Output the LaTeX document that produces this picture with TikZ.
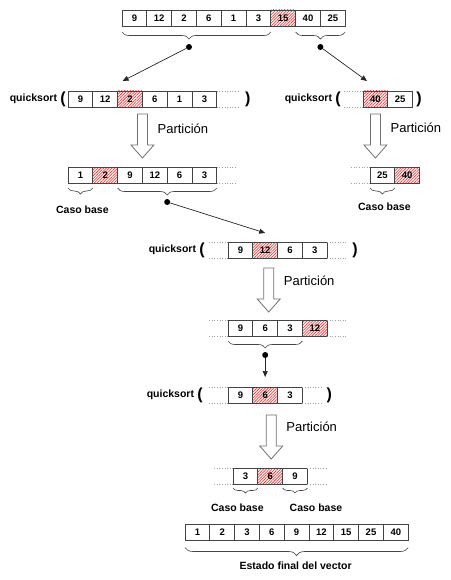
\documentclass[tikz,border=0pt]{standalone}
\usepackage{fontspec}
\setmainfont{Liberation Sans}
\definecolor{LineaGris}{HTML}{444444}
\definecolor{PuntoGris}{HTML}{A0A0A0}
\definecolor{RojoPivote}{HTML}{E03030}
\definecolor{FlechaGris}{HTML}{707070}
\usetikzlibrary{arrows.meta, positioning, calc, patterns.meta, decorations.pathreplacing}
\tikzset{
  celda/.style={draw=LineaGris, line width=0.7pt, minimum width=24.8pt, minimum height=16pt, inner sep=0pt, outer sep=0pt, font=\fontsize{9.5}{11}\selectfont\bfseries},
  pivote/.style={celda, preaction={fill=red!6}, pattern={Lines[angle=45, distance=2pt, line width=0.55pt]}, pattern color=RojoPivote},
  qs/.style={font=\fontsize{10.5}{12}\selectfont\bfseries, inner sep=0pt},
  parentesis/.style={font=\fontsize{16}{18}\selectfont\bfseries, inner sep=0pt},
  etiqueta/.style={font=\fontsize{10.5}{12}\selectfont\bfseries, inner sep=0pt},
  particion/.style={font=\fontsize{13}{15}\selectfont, inner sep=0pt, anchor=west},
  llave/.style={decorate, decoration={brace, mirror, amplitude=7pt}, draw=LineaGris, line width=0.6pt},
  punto/.style={circle, fill=black, inner sep=0pt, minimum size=6pt},
  flecha/.style={-{Triangle[length=6pt, width=5pt]}, draw=black!85, line width=0.7pt},
  bloque/.style={draw=FlechaGris, line width=0.8pt, fill=white},
  punteado/.style={draw=PuntoGris, dotted, line width=0.6pt}
}
\begin{document}
\begin{tikzpicture}[x=1pt, y=-1pt]
\useasboundingbox (0,0) rectangle (450,580);

% vector inicial
\node[celda, anchor=west] (a1) at (122,18) {9};
\node[celda, right=0pt of a1] (a2) {12};
\node[celda, right=0pt of a2] (a3) {2};
\node[celda, right=0pt of a3] (a4) {6};
\node[celda, right=0pt of a4] (a5) {1};
\node[celda, right=0pt of a5] (a6) {3};
\node[pivote, right=0pt of a6] (a7) {15};
\node[celda, right=0pt of a7] (a8) {40};
\node[celda, right=0pt of a8] (a9) {25};
\draw[llave, decoration={aspect=0.45}] ([yshift=-6pt]a1.south west) -- ([yshift=-6pt]a6.south east);
\draw[llave] ([yshift=-6pt]a8.south west) -- ([yshift=-6pt]a9.south east);
\node[punto] (pa) at ($(a1.south west)!0.45!(a6.south east)+(0,21)$) {};
\node[punto] (pc) at ($(a8.south west)!0.5!(a9.south east)+(0,21)$) {};

% quicksort izquierdo
\node[celda, anchor=west] (b1) at (68,99) {9};
\node[celda, right=0pt of b1] (b2) {12};
\node[pivote, right=0pt of b2] (b3) {2};
\node[celda, right=0pt of b3] (b4) {6};
\node[celda, right=0pt of b4] (b5) {1};
\node[celda, right=0pt of b5] (b6) {3};
\node[parentesis, left=2pt of b1] (pb) {(};
\node[qs, left=3pt of pb] (qsb) {quicksort};
\node[parentesis, right=28pt of b6] (cb) {)};
\draw[punteado] (b6.north east) -- ++(23,0);
\draw[punteado] (b6.south east) -- ++(23,0);
\coordinate (qb) at ([shift={(5pt,10pt)}]b3.north west);
\draw[flecha] (pa) -- (qb);

% quicksort derecho
\node[pivote, anchor=west] (c1) at (363,99) {40};
\node[celda, right=0pt of c1] (c2) {25};
\node[parentesis, left=22pt of c1] (pc1) {(};
\node[qs, left=3pt of pc1] (qsc) {quicksort};
\node[parentesis, right=3.5pt of c2] (cc) {)};
\draw[punteado] (c1.north west) -- ++(-19,0);
\draw[punteado] (c1.south west) -- ++(-19,0);
\coordinate (qc) at ([shift={(4pt,10pt)}]c1.north west);
\draw[flecha] (pc) -- (qc);

% particiones
\coordinate (tb) at ([yshift=-7pt]b3.south east);
\draw[bloque] ([xshift=-5pt]tb) -- ++(10,0) -- ++(0,31) -- ++(6.5,0) -- ++(-11.5,13) -- ++(-11.5,-13) -- ++(6.5,0) -- cycle;
\node[particion] (lb) at ([shift={(15pt,-15pt)}]tb) {Partición};
\coordinate (tc) at ([yshift=-7pt]c1.south);
\draw[bloque] ([xshift=-5pt]tc) -- ++(10,0) -- ++(0,31) -- ++(6.5,0) -- ++(-11.5,13) -- ++(-11.5,-13) -- ++(6.5,0) -- cycle;
\node[particion] (lc) at ([shift={(15pt,-14pt)}]tc) {Partición};

% resultado izquierdo
\node[celda, anchor=west] (d1) at (68,175) {1};
\node[pivote, right=0pt of d1] (d2) {2};
\node[celda, right=0pt of d2] (d3) {9};
\node[celda, right=0pt of d3] (d4) {12};
\node[celda, right=0pt of d4] (d5) {6};
\node[celda, right=0pt of d5] (d6) {3};
\draw[punteado] (d6.north east) -- ++(20,0);
\draw[punteado] (d6.south east) -- ++(20,0);
\draw[llave, decoration={amplitude=6pt}] ([yshift=-5pt]d1.south west) -- ([yshift=-5pt]d1.south east);
\node[etiqueta] (bd) at ($(d1.south)+(2,27)$) {Caso base};
\draw[llave] ([yshift=-5pt]d3.south west) -- ([yshift=-5pt]d6.south east);
\node[punto] (pd) at ($(d3.south west)!0.5!(d6.south east)+(0,19)$) {};

% resultado derecho
\node[celda, anchor=west] (e1) at (370,175) {25};
\node[pivote, right=0pt of e1] (e2) {40};
\draw[punteado] (e1.north west) -- ++(-20,0);
\draw[punteado] (e1.south west) -- ++(-20,0);
\draw[llave, decoration={amplitude=6pt}] ([yshift=-5pt]e1.south west) -- ([yshift=-5pt]e1.south east);
\node[etiqueta] (be) at ($(e1.south)+(2,24)$) {Caso base};

% quicksort 9 12 6 3
\node[celda, anchor=west] (f1) at (228,250) {9};
\node[pivote, right=0pt of f1] (f2) {12};
\node[celda, right=0pt of f2] (f3) {6};
\node[celda, right=0pt of f3] (f4) {3};
\node[parentesis, left=23pt of f1] (pf) {(};
\node[qs, left=3pt of pf] (qsf) {quicksort};
\node[parentesis, right=25pt of f4] (cf) {)};
\draw[punteado] (f1.north west) -- ++(-20,0);
\draw[punteado] (f1.south west) -- ++(-20,0);
\draw[punteado] (f4.north east) -- ++(20,0);
\draw[punteado] (f4.south east) -- ++(20,0);
\coordinate (qf) at ([yshift=9pt]f2.north);
\draw[flecha] (pd) -- (qf);
\coordinate (tf) at ([shift={(3.5pt,-10pt)}]f2.south);
\draw[bloque] ([xshift=-5pt]tf) -- ++(10,0) -- ++(0,31) -- ++(6.5,0) -- ++(-11.5,13) -- ++(-11.5,-13) -- ++(6.5,0) -- cycle;
\node[particion] (lf) at ([shift={(15pt,-13pt)}]tf) {Partición};

% resultado 9 6 3 12
\node[celda, anchor=west] (g1) at (228,328) {9};
\node[celda, right=0pt of g1] (g2) {6};
\node[celda, right=0pt of g2] (g3) {3};
\node[pivote, right=0pt of g3] (g4) {12};
\draw[punteado] (g1.north west) -- ++(-19,0);
\draw[punteado] (g1.south west) -- ++(-19,0);
\draw[punteado] (g4.north east) -- ++(20,0);
\draw[punteado] (g4.south east) -- ++(20,0);
\draw[llave] ([yshift=-5pt]g1.south west) -- ([yshift=-5pt]g3.south east);
\node[punto] (pg) at ($(g1.south west)!0.5!(g3.south east)+(0,19)$) {};

% quicksort 9 6 3
\node[celda, anchor=west] (h1) at (228,395) {9};
\node[pivote, right=0pt of h1] (h2) {6};
\node[celda, right=0pt of h2] (h3) {3};
\node[parentesis, left=25pt of h1] (ph) {(};
\node[qs, left=3pt of ph] (qsh) {quicksort};
\node[parentesis, right=24pt of h3] (ch) {)};
\draw[punteado] (h1.north west) -- ++(-19,0);
\draw[punteado] (h1.south west) -- ++(-19,0);
\draw[punteado] (h3.north east) -- ++(20,0);
\draw[punteado] (h3.south east) -- ++(20,0);
\coordinate (qh) at ([yshift=10pt]h2.north);
\draw[flecha] (pg) -- (qh);
\coordinate (th) at ([shift={(6pt,-12pt)}]h2.south);
\draw[bloque] ([xshift=-5pt]th) -- ++(10,0) -- ++(0,31) -- ++(6.5,0) -- ++(-11.5,13) -- ++(-11.5,-13) -- ++(6.5,0) -- cycle;
\node[particion] (lh) at ([shift={(15pt,-12pt)}]th) {Partición};

% resultado 3 6 9
\node[celda, anchor=west] (i1) at (233,476) {3};
\node[pivote, right=0pt of i1] (i2) {6};
\node[celda, right=0pt of i2] (i3) {9};
\draw[punteado] (i1.north west) -- ++(-19,0);
\draw[punteado] (i1.south west) -- ++(-19,0);
\draw[punteado] (i3.north east) -- ++(20,0);
\draw[punteado] (i3.south east) -- ++(20,0);
\draw[llave, decoration={amplitude=5pt}] ([yshift=-4pt]i1.south west) -- ([yshift=-4pt]i1.south east);
\draw[llave, decoration={amplitude=5pt}] ([yshift=-4pt]i3.south west) -- ([yshift=-4pt]i3.south east);
\node[etiqueta] (bi1) at ($(i1.south)+(-8,24)$) {Caso base};
\node[etiqueta] (bi3) at ($(i3.south)+(21,24)$) {Caso base};

% estado final
\node[celda, anchor=west] (j1) at (185,532.5) {1};
\node[celda, right=0pt of j1] (j2) {2};
\node[celda, right=0pt of j2] (j3) {3};
\node[celda, right=0pt of j3] (j4) {6};
\node[celda, right=0pt of j4] (j5) {9};
\node[celda, right=0pt of j5] (j6) {12};
\node[celda, right=0pt of j6] (j7) {15};
\node[celda, right=0pt of j7] (j8) {25};
\node[celda, right=0pt of j8] (j9) {40};
\draw[llave, decoration={amplitude=8pt}] ([yshift=-7pt]j1.south west) -- ([yshift=-7pt]j9.south east);
\node[etiqueta] (ej) at ($(j5.south)+(-1,25.5)$) {Estado final del vector};
\end{tikzpicture}
\end{document}
